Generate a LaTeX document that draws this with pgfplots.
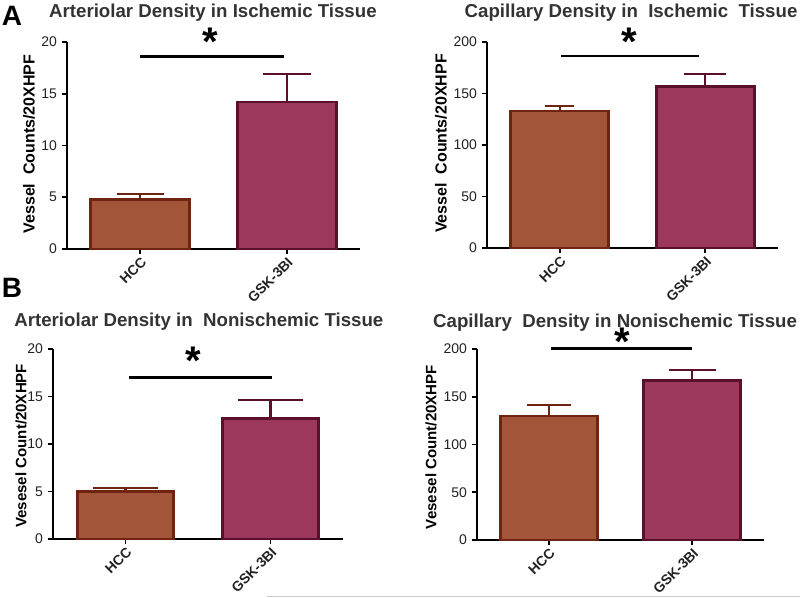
\documentclass[border=0pt]{standalone}
\usepackage{pgfplots}
\pgfplotsset{compat=1.18}
\usepackage{fontspec}
\setmainfont{Liberation Sans}
\definecolor{hccfill}{HTML}{A3553A}
\definecolor{hccedge}{HTML}{6E2410}
\definecolor{gskfill}{HTML}{9C385C}
\definecolor{gskedge}{HTML}{5A0F2C}
\definecolor{txt}{HTML}{222222}
\definecolor{ttlcol}{HTML}{333333}
\tikzset{ttlnode/.style={anchor=base, inner sep=0pt, font=\fontsize{14}{16}\selectfont\bfseries, text=ttlcol}}
\pgfplotsset{
  panel/.style={
    scale only axis, anchor=south west, clip=false,
    axis x line*=bottom, axis y line*=left,
    axis line style={line width=1.5pt, black},
    xmin=-0.5, xmax=1.5, ymin=0,
    xtick={0,1}, xticklabels={HCC,GSK-3BI},
    tick align=outside, major tick length=4pt,
    tick style={line width=1.3pt, black},
    /pgf/number format/assume math mode=true,
    yticklabel style={font=\fontsize{10.5}{12}\selectfont, text=txt},
    xticklabel style={font=\fontsize{10.5}{12}\selectfont\bfseries, text=txt, rotate=45, anchor=north east, inner sep=1pt},
    ylabel style={font=\fontsize{12}{14}\selectfont\bfseries, text=black, anchor=center},
  },
  hcc/.style={ybar, bar shift=0pt, fill=hccfill, draw=hccedge, line width=2pt,
    error bars/y dir=plus, error bars/y explicit,
    error bars/error bar style={line width=1.6pt, hccedge},
    error bars/error mark=|,
    error bars/error mark options={line width=1.6pt, hccedge, mark size=#1}},
  gsk/.style={ybar, bar shift=0pt, fill=gskfill, draw=gskedge, line width=2pt,
    error bars/y dir=plus, error bars/y explicit,
    error bars/error bar style={line width=1.6pt, gskedge},
    error bars/error mark=|,
    error bars/error mark options={line width=1.6pt, gskedge, mark size=#1}},
}
\newcommand{\sigstar}{\fontsize{30}{30}\selectfont\bfseries *}
\begin{document}
\begin{tikzpicture}
\path[use as bounding box] (0pt,0pt) rectangle (600pt,-448.5pt);
% panel letters
\node[font=\fontsize{21}{21}\selectfont\bfseries, anchor=base] at (9pt,-19.5pt) {A};
\node[font=\fontsize{21}{21}\selectfont\bfseries, anchor=base] at (9pt,-223.5pt) {B};
\draw[line width=0.75pt, black!20] (200.25pt,-447pt) -- (600pt,-447pt);

% A left
\begin{axis}[panel, at={(50.25pt,-186.75pt)}, width=219.75pt, height=155.25pt,
  ymax=20, ytick={0,5,10,15,20},
  ylabel={Vessel\ \ Counts/20XHPF},
  ylabel style={at={(axis description cs:-0.13,0.507)}}]
\addplot[hcc=17.6pt, bar width=0.676] coordinates {(0,4.8) +- (0,0.5)};
\addplot[gsk=18pt, bar width=0.676] coordinates {(1,14.2) +- (0,2.7)};
\draw[line width=2.2pt] (axis cs:0,18.6) -- (axis cs:0.98,18.6);
\node[anchor=north, inner sep=0pt] at (axis cs:0.476,21.35) {\sigstar};
\node[ttlnode] at (axis description cs:0.498,1.118) {Arteriolar Density in Ischemic Tissue};
\end{axis}

% A right
\begin{axis}[panel, at={(365.25pt,-186pt)}, width=218.25pt, height=154.5pt,
  ymax=200, ytick={0,50,100,150,200},
  ylabel={Vessel\ \ Counts/20XHPF},
  ylabel style={at={(axis description cs:-0.158,0.507)}}]
\addplot[hcc=10.9pt, bar width=0.674] coordinates {(0,133) +- (0,5)};
\addplot[gsk=15.8pt, bar width=0.674] coordinates {(1,157) +- (0,12)};
\draw[line width=2.2pt] (axis cs:0.01,186.4) -- (axis cs:0.957,186.4);
\node[anchor=north, inner sep=0pt] at (axis cs:0.476,213.6) {\sigstar};
\node[ttlnode] at (axis description cs:0.495,1.119) {Capillary Density in\ \ Ischemic\ \ Tissue};
\end{axis}

% B left
\begin{axis}[panel, at={(39.75pt,-404.25pt)}, width=217.5pt, height=142.5pt,
  ymax=20, ytick={0,5,10,15,20},
  ylabel={Vesesel Count/20XHPF},
  ylabel style={at={(axis description cs:-0.110,0.49)}, font=\fontsize{11.3}{13}\selectfont\bfseries}]
\addplot[hcc=24.4pt, bar width=0.66] coordinates {(0,5.0) +- (0,0.4)};
\addplot[gsk=24.4pt, bar width=0.665] coordinates {(1,12.7) +- (0,1.9)};
\draw[line width=2.2pt] (axis cs:0.024,17) -- (axis cs:1.01,17);
\node[anchor=north, inner sep=0pt] at (axis cs:0.466,20.2) {\sigstar};
\node[ttlnode] at (axis description cs:0.503,1.116) {Arteriolar Density in\ \ Nonischemic Tissue};
\end{axis}

% B right
\begin{axis}[panel, at={(357.75pt,-405pt)}, width=215.25pt, height=143.25pt,
  ymax=200, ytick={0,50,100,150,200},
  ylabel={Vesesel Count/20XHPF},
  ylabel style={at={(axis description cs:-0.160,0.487)}, font=\fontsize{11.3}{13}\selectfont\bfseries}]
\addplot[hcc=16.5pt, bar width=0.676] coordinates {(0,130) +- (0,11)};
\addplot[gsk=17.6pt, bar width=0.676] coordinates {(1,167) +- (0,11)};
\draw[line width=2.2pt] (axis cs:0.016,200.5) -- (axis cs:0.998,200.5);
\node[anchor=north, inner sep=0pt] at (axis cs:0.51,222) {\sigstar};
\node[ttlnode] at (axis description cs:0.481,1.115) {Capillary\ \ Density in Nonischemic Tissue};
\end{axis}
\end{tikzpicture}
\end{document}
